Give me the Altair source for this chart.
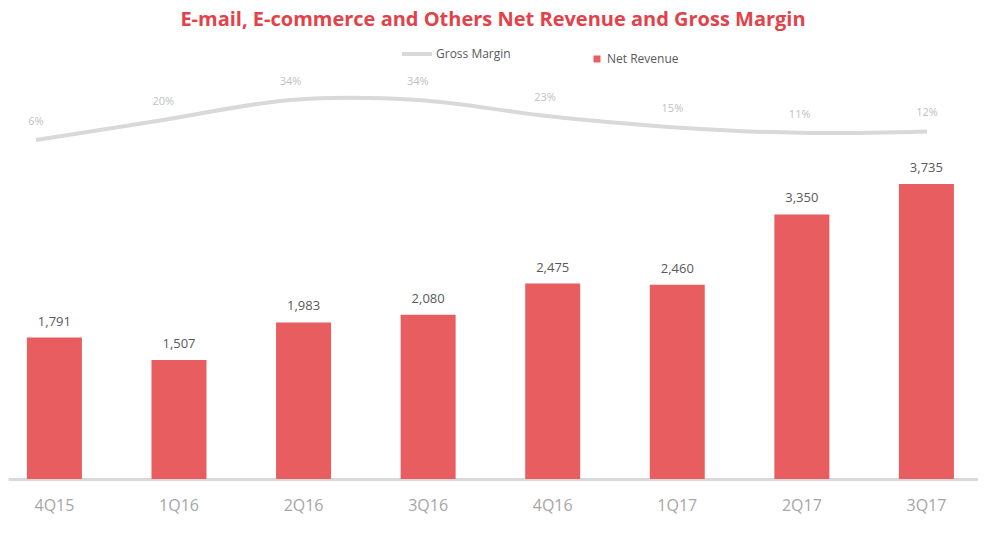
import altair as alt
import pandas as pd

quarters = ["4Q15", "1Q16", "2Q16", "3Q16", "4Q16", "1Q17", "2Q17", "3Q17"]
net_revenue = [1791, 1507, 1983, 2080, 2475, 2460, 3350, 3735]
gross_margin = [6, 20, 34, 34, 23, 15, 11, 12]

df = pd.DataFrame({
    "quarter": quarters,
    "revenue": net_revenue,
    "margin": gross_margin,
    "rev_series": ["Net Revenue"] * len(quarters),
    "gm_series": ["Gross Margin"] * len(quarters),
})
df["rev_label"] = df["revenue"].map(lambda v: f"{v:,}")
df["gm_label"] = df["margin"].map(lambda v: f"{v}%")

FONT = "Open Sans"
W, H = 970, 435

xbar_scale = alt.Scale(domain=quarters, paddingInner=0.5585, paddingOuter=0.1726, align=0.44)
ybar_scale = alt.Scale(domain=[0, 5508], nice=False, zero=True)
xline_scale = alt.Scale(type="point", domain=quarters, padding=0.3103, align=0.354)
yline_scale = alt.Scale(domain=[-231.05, 73.15], nice=False, zero=False)

x_axis = alt.Axis(labelFontSize=16, labelColor="#A6A6A6", labelFont=FONT,
                  domain=True, labels=True,
                  domainColor="#D9D9D9", domainWidth=3, ticks=False,
                  labelPadding=18, labelAngle=0, grid=False)

base_bar = alt.Chart(df)
bars = base_bar.mark_bar().encode(
    x=alt.X("quarter:N", scale=xbar_scale, sort=quarters, title=None, axis=x_axis),
    y=alt.Y("revenue:Q", scale=ybar_scale, axis=None),
    fill=alt.Fill("rev_series:N",
                  scale=alt.Scale(domain=["Net Revenue"], range=["#E85D60"]),
                  legend=alt.Legend(title=None, orient="none", legendX=583, legendY=9,
                                    symbolType="square", symbolSize=49, labelFontSize=12,
                                    labelColor="#595959", labelFont=FONT, labelOffset=4)),
)
bar_text = base_bar.mark_text(font=FONT, fontSize=13, color="#595959", dy=-16,
                              baseline="middle").encode(
    x=alt.X("quarter:N", scale=xbar_scale, sort=quarters, title=None, axis=x_axis),
    y=alt.Y("revenue:Q", scale=ybar_scale, axis=None),
    text="rev_label:N",
)
bar_layer = alt.layer(bars, bar_text)

line = alt.Chart(df).mark_line(strokeWidth=4, interpolate="catmull-rom").encode(
    x=alt.X("quarter:N", scale=xline_scale, sort=quarters, axis=None),
    y=alt.Y("margin:Q", scale=yline_scale, axis=None),
    stroke=alt.Stroke("gm_series:N",
                      scale=alt.Scale(domain=["Gross Margin"], range=["#D9D9D9"]),
                      legend=alt.Legend(title=None, orient="none", legendX=392, legendY=-7,
                                        symbolType="stroke", symbolSize=900,
                                        symbolStrokeWidth=4, labelFontSize=12,
                                        labelColor="#595959", labelFont=FONT,
                                        labelOffset=2)),
)
line_text = alt.Chart(df).mark_text(font=FONT, fontSize=11, color="#BFBFBF", dy=-18,
                                    baseline="middle").encode(
    x=alt.X("quarter:N", scale=xline_scale, sort=quarters, axis=None),
    y=alt.Y("margin:Q", scale=yline_scale, axis=None),
    text="gm_label:N",
)
line_layer = alt.layer(line, line_text)

chart = alt.layer(bar_layer, line_layer).resolve_scale(
    x="independent", y="independent"
).properties(
    width=W, height=H,
    background="white",
    title=alt.TitleParams("E-mail, E-commerce and Others Net Revenue and Gross Margin",
                          font=FONT, fontSize=20, fontWeight="bold", color="#E2424A",
                          anchor="middle", offset=7),
    autosize=alt.AutoSizeParams(type="none"),
    padding={"left": 0, "top": 36, "right": 0, "bottom": 50},
).configure_view(strokeWidth=0, stroke="transparent").configure_axis(
    domain=False, grid=False, ticks=False, labels=False
)

chart.save("out.html", embed_options={"renderer": "svg", "actions": False})
